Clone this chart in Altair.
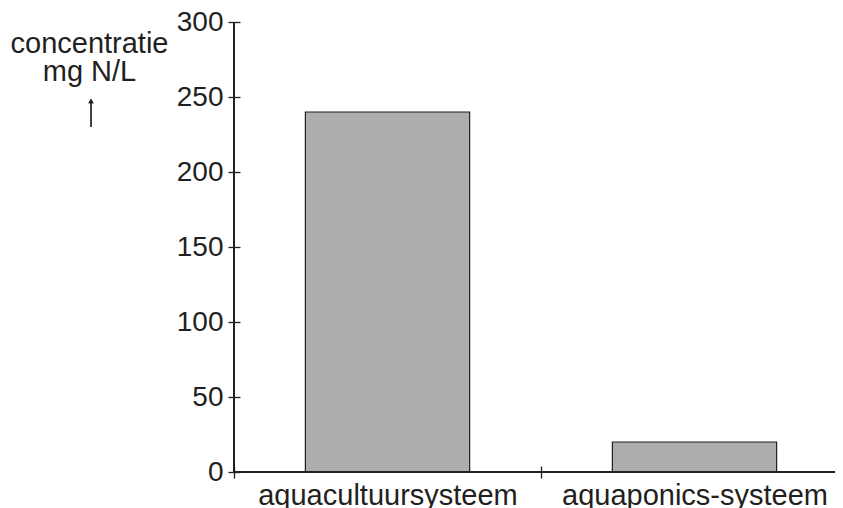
import altair as alt
import pandas as pd

systems = ["aquacultuursysteem", "aquaponics-systeem"]
concentration = [240, 20]
y_ticks = [0, 50, 100, 150, 200, 250, 300]
y_title = ["concentratie", "mg N/L"]

df = pd.DataFrame({"systeem": systems, "concentratie": concentration})

W, H = 601, 450
ink = "#231f20"
font = "Liberation Sans"

x_enc = alt.X(
    "systeem:N",
    sort=systems,
    scale=alt.Scale(paddingInner=0, paddingOuter=0, range=[0, 614]),
    axis=alt.Axis(
        title=None, domain=False, grid=False, tickBand="extent",
        offset=-6, tickSize=12, tickColor=ink, tickWidth=1.3,
        labelAngle=0, labelFont=font, labelFontSize=29, labelColor=ink,
        labelPadding=3, labelBaseline="top", labelLimit=0,
    ),
)
y_enc = alt.Y(
    "concentratie:Q",
    scale=alt.Scale(domain=[0, 300], nice=False),
    axis=alt.Axis(
        values=y_ticks, domain=False, grid=False,
        offset=-6, tickSize=12, tickColor=ink, tickWidth=1.3,
        labelFont=font, labelFontSize=28, labelColor=ink, labelPadding=5,
        title=y_title, titleAngle=0, titleAlign="center", titleBaseline="alphabetic",
        titleX=-151, titleY=30, titleFont=font, titleFontSize=29,
        titleFontWeight="normal", titleColor=ink, titleLineHeight=28.5,
    ),
)

bars = alt.Chart(df).mark_bar(
    width=alt.RelativeBandSize(0.535), fill="#adadad", stroke=ink, strokeWidth=1.2
).encode(x=x_enc, y=y_enc)

yline = alt.Chart(df).mark_rule(color=ink, strokeWidth=2).encode(
    x=alt.value(0), y=alt.datum(0), y2=alt.datum(300)
)
xline = alt.Chart(df).mark_rule(color=ink, strokeWidth=2).encode(
    y=alt.datum(0), x=alt.value(0), x2=alt.value("width")
)

# small upward arrow under the axis title
arrow_shaft = alt.Chart(df).mark_rule(color=ink, strokeWidth=1.2).encode(
    x=alt.value(-143), y=alt.value(78), y2=alt.value(105)
)
arrow_head = alt.Chart(df).mark_point(
    shape="triangle-up", filled=True, color=ink, opacity=1, size=28
).encode(x=alt.value(-143), y=alt.value(79))

chart = alt.layer(bars, yline, xline, arrow_shaft, arrow_head).properties(
    width=W, height=H,
    background="white",
    autosize=alt.AutoSizeParams(type="none"),
    padding={"left": 226, "top": 14, "right": 0, "bottom": 40},
).configure_view(stroke="transparent", strokeWidth=0).configure_axis(grid=False)

chart.save("out.html", embed_options={"renderer": "svg", "actions": False})
